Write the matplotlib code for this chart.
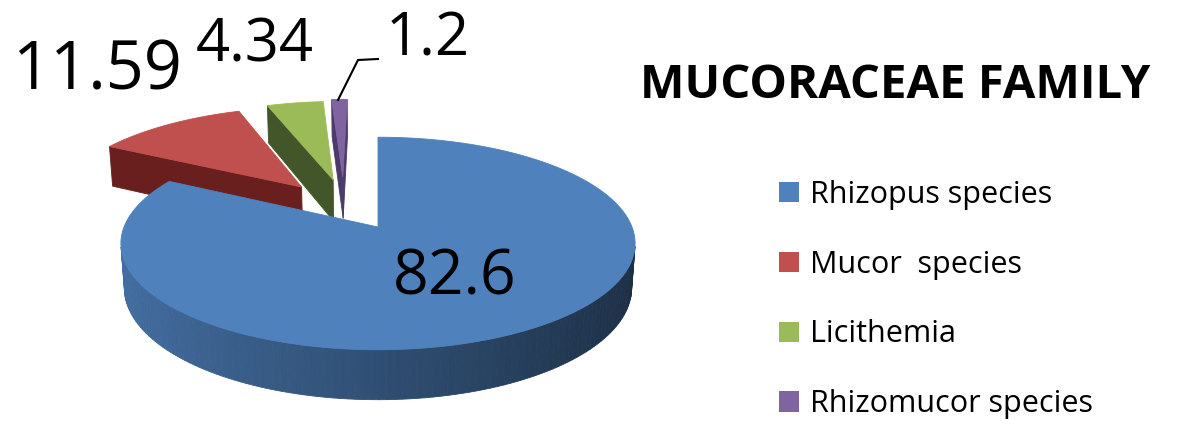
import numpy as np
import matplotlib.pyplot as plt
from matplotlib.patches import Polygon, Patch

# chart data
labels = ["Rhizopus species", "Mucor  species", "Licithemia", "Rhizomucor species"]
values = [82.6, 11.59, 4.34, 1.2]
value_text = ["82.6", "11.59", "4.34", "1.2"]
colors = ["#4F81BD", "#C0504D", "#9BBB59", "#8064A2"]
side_colors = ["#2c4a70", "#691f1e", "#42562a", "#4b3a6a"]

# layout of the 3d pie, in pixels of the figure
cx, cy, scale = 378, 227, 254
elev = np.radians(24.1)
dist = 5.89
thick = 0.192
explode = [(0, 0), (-0.32, 0.41), (-0.19, 0.49), (-0.15, 0.52)]
cam = np.array([0, -dist * np.cos(elev), dist * np.sin(elev)])


def project(x, y, z):
    depth = dist + y * np.cos(elev) - z * np.sin(elev)
    u = x * dist / depth
    v = (y * np.sin(elev) + z * np.cos(elev)) * dist / depth
    return cx + scale * u, cy - scale * v


def shade(col, f):
    c = np.array(plt.matplotlib.colors.to_rgb(col))
    return tuple(np.clip(c * f, 0, 1))


fig = plt.figure(figsize=(11.91, 4.26), dpi=100)
ax = fig.add_axes([0, 0, 1, 1])
ax.set_xlim(0, 1191)
ax.set_ylim(426, 0)
ax.axis("off")

total = sum(values)
starts = 90 - 360 * np.cumsum([0] + values[:-1]) / total
ends = starts - 360 * np.array(values) / total

# exploded slices first (they sit behind), big slice last
order = [1, 2, 3, 0]
for i in order:
    ox, oy = explode[i]
    t1, t2 = np.radians(starts[i]), np.radians(ends[i])
    th = np.linspace(t2, t1, 200)

    # outer wall, only the part facing the viewer
    for a, b in zip(th[:-1], th[1:]):
        m = (a + b) / 2
        p = np.array([ox + np.cos(m), oy + np.sin(m), 0])
        if np.dot([np.cos(m), np.sin(m), 0], cam - p) <= 0:
            continue
        xs, ys = [], []
        for ang, z in [(a, 0), (b, 0), (b, -thick), (a, -thick)]:
            px, py = project(ox + np.cos(ang), oy + np.sin(ang), z)
            xs.append(px)
            ys.append(py)
        f = 0.86 - 0.5 * (np.cos(m) + 1) / 2
        col = shade(colors[i], f)
        ax.add_patch(Polygon(np.c_[xs, ys], closed=True, fc=col, ec=col, lw=0.6))

    # radial cut faces
    tip = np.array([ox, oy, 0])
    for phi, sgn in [(t1, 1), (t2, -1)]:
        n = sgn * np.array([-np.sin(phi), np.cos(phi), 0])
        if np.dot(n, cam - tip) <= 0:
            continue
        pts = [(ox, oy, 0), (ox + np.cos(phi), oy + np.sin(phi), 0),
               (ox + np.cos(phi), oy + np.sin(phi), -thick), (ox, oy, -thick)]
        poly = [project(*q) for q in pts]
        ax.add_patch(Polygon(poly, closed=True, fc=side_colors[i], ec=side_colors[i], lw=0.6))

    # top face
    top = [project(ox, oy, 0)] + [project(ox + np.cos(t), oy + np.sin(t), 0) for t in th]
    ax.add_patch(Polygon(top, closed=True, fc=colors[i], ec=colors[i], lw=0.6))

font = "Open Sans"
# value labels
ax.text(455, 278, value_text[0], fontsize=45, family=font, ha="center", va="center")
ax.text(12, 72, value_text[1], fontsize=48, family=font, ha="left", va="center")
ax.text(196, 46, value_text[2], fontsize=43, family=font, ha="left", va="center")
ax.text(386, 40, value_text[3], fontsize=43, family=font, ha="left", va="center")
ax.plot([338, 358, 378], [100, 60, 59], color="black", lw=1.5)

# title and legend
ax.text(640, 86, "MUCORACEAE FAMILY", fontsize=34, fontweight="bold", family=font,
        ha="left", va="center")
handles = [Patch(facecolor=c, edgecolor="none") for c in colors]
ax.legend(handles, labels, loc="upper left", bbox_to_anchor=(779 / 1191, 1 - 180 / 426),
          frameon=False, prop={"family": font, "size": 22},
          handlelength=0.65, handleheight=0.65, handletextpad=0.37, labelspacing=1.3,
          borderpad=0, borderaxespad=0)

fig.savefig("out.png", dpi=100)
